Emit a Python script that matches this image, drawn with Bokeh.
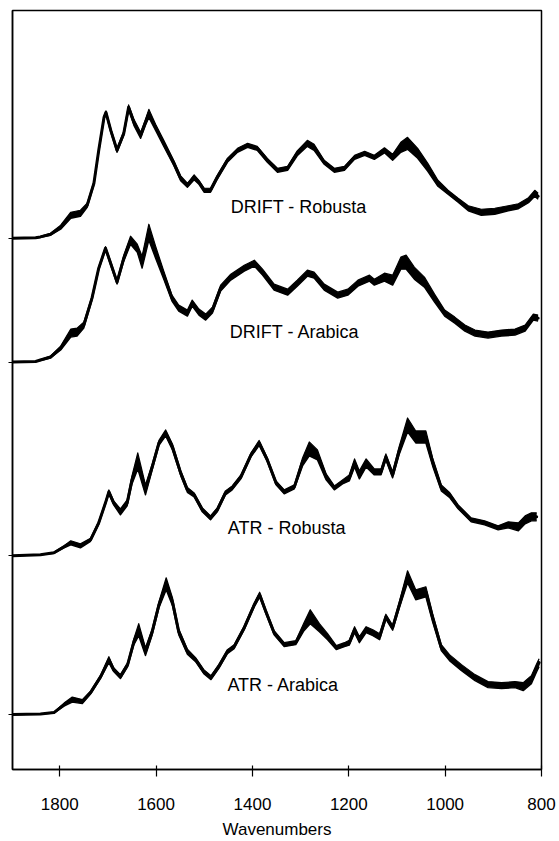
from bokeh.plotting import figure
from bokeh.models import Range1d, FixedTicker, ColumnDataSource
from bokeh.core.properties import value
from bokeh.embed import file_html
from bokeh.resources import INLINE

# ---------------- data (arbitrary absorbance units) -------------
group_names = ["DRIFT - Robusta", "DRIFT - Arabica", "ATR - Robusta", "ATR - Arabica"]
group_offsets = [532, 408, 214, 55]

wn_drift_rob = [1898, 1850, 1840, 1819, 1798, 1777, 1757, 1743, 1729, 1719, 1708, 1704, 1694, 1681,
                1667, 1657, 1646, 1632, 1622, 1615, 1601, 1584, 1563, 1549, 1535, 1521, 1511, 1500,
                1487, 1473, 1452, 1431, 1410, 1390, 1369, 1348, 1327, 1307, 1286, 1272, 1251, 1230,
                1209, 1188, 1167, 1147, 1126, 1109, 1092, 1078, 1057, 1036, 1015, 994, 973, 952,
                925, 897, 869, 848, 827, 814, 807]
abs_drift_rob = [0, 0.5, 1.3, 4, 11, 23, 25, 33, 55, 88, 121, 126, 108, 88, 105, 131, 116, 103, 116,
                 125, 111, 95, 75, 60, 53, 61, 56, 48, 48, 61, 78, 88, 93, 90, 78, 68, 70, 85, 95, 91,
                 76, 68, 70, 81, 85, 81, 88, 81, 91, 95, 85, 71, 55, 46, 38, 30, 26, 27, 30, 32, 38,
                 45, 42]
spread_drift_rob = [0, 0, 0.5, 1, 2, 3, 3, 2, 1.5, 1.5, 1.5, 1.5, 2, 2, 2, 2.5, 3, 3, 3, 4,
                    3, 3, 2.5, 2.5, 2, 2.5, 2, 2, 2, 2, 2, 2, 2, 2, 2, 2, 2, 2.5, 3, 3,
                    2, 2, 2, 2, 2, 2, 2.5, 3, 5, 6, 5, 4, 3, 2, 2, 2.5, 3, 3, 2.5, 2.5,
                    2.5, 3, 3]

wn_drift_ara = [1898, 1850, 1840, 1819, 1798, 1777, 1764, 1750, 1733, 1719, 1705, 1695, 1681, 1667,
                1653, 1639, 1629, 1615, 1601, 1584, 1567, 1553, 1535, 1525, 1511, 1497, 1483, 1466,
                1445, 1417, 1396, 1379, 1355, 1327, 1307, 1286, 1272, 1251, 1223, 1202, 1181, 1157,
                1147, 1126, 1109, 1092, 1081, 1064, 1043, 1022, 1001, 980, 959, 938, 911, 883, 855,
                834, 817, 807]
abs_drift_ara = [0, 0.5, 2, 5, 14, 29, 30, 37, 64, 94, 114, 100, 80, 104, 122, 114, 100, 130, 110, 87,
                 64, 54, 49, 59, 50, 45, 52, 74, 85, 94, 99, 90, 75, 70, 79, 89, 87, 75, 67, 70,
                 79, 84, 80, 85, 82, 99, 100, 89, 80, 64, 49, 42, 34, 29, 27, 29, 30, 34, 45, 44]
spread_drift_ara = [0, 0, 0.5, 1, 2, 4, 4, 3, 2, 1.5, 1.5, 2, 2, 3, 4, 4, 6, 8, 6, 4,
                    3, 3, 3, 3, 3, 3, 3, 3, 3, 3, 3, 3, 3, 3, 3, 3, 3, 3, 3, 3,
                    3, 3, 3, 4, 5, 6, 7, 6, 5, 4, 3, 3, 3, 3, 3, 3, 3, 3, 3, 3]

wn_atr_rob = [1898, 1840, 1812, 1791, 1777, 1757, 1736, 1719, 1705, 1698, 1688, 1674, 1660, 1650,
              1638, 1622, 1608, 1594, 1580, 1566, 1549, 1535, 1521, 1504, 1487, 1473, 1456, 1442,
              1424, 1403, 1386, 1369, 1351, 1334, 1313, 1296, 1282, 1265, 1247, 1230, 1213, 1199,
              1188, 1178, 1164, 1147, 1133, 1123, 1109, 1095, 1078, 1061, 1040, 1026, 1008, 991,
              973, 946, 918, 890, 869, 848, 834, 821, 810]
abs_atr_rob = [0, 1, 3, 9, 13, 10, 16, 33, 53, 64, 53, 44, 53, 76, 95, 66, 89, 113, 123, 109,
               83, 66, 61, 46, 38, 46, 63, 68, 79, 101, 113, 96, 73, 64, 69, 94, 107, 101, 79, 68,
               74, 78, 93, 81, 93, 84, 84, 99, 81, 106, 131, 119, 119, 94, 68, 61, 49, 36, 33, 28,
               31, 29, 36, 39, 39]
spread_atr_rob = [0, 0, 0.5, 1, 2, 2, 1.5, 1.5, 1.5, 2, 2, 3, 3, 4, 8, 5, 3, 2.5, 3, 3,
                  2.5, 2.5, 2, 2, 2, 2, 2, 2, 2, 2, 2.5, 2, 2, 2, 2, 4, 7, 5, 3, 2,
                  2, 3, 4, 4, 4, 3, 3, 3, 3, 4, 7, 6, 6, 4, 3, 2.5, 2, 2, 2, 2,
                  3, 4, 4, 4, 4]

wn_atr_ara = [1898, 1840, 1812, 1791, 1774, 1753, 1736, 1715, 1698, 1688, 1674, 1659, 1646, 1636,
              1622, 1608, 1594, 1579, 1566, 1553, 1535, 1518, 1501, 1486, 1470, 1452, 1438, 1417,
              1396, 1385, 1372, 1355, 1334, 1310, 1293, 1280, 1261, 1244, 1226, 1209, 1199, 1188,
              1178, 1164, 1150, 1136, 1123, 1109, 1095, 1078, 1061, 1040, 1026, 1008, 991, 966,
              938, 911, 883, 855, 838, 821, 810, 805]
abs_atr_ara = [0, 0.5, 2, 10, 15, 13, 22, 38, 55, 45, 38, 50, 73, 85, 63, 83, 110, 131, 113, 83,
               63, 55, 43, 37, 48, 63, 68, 87, 110, 120, 103, 82, 70, 72, 88, 98, 87, 78, 67, 70,
               72, 85, 75, 85, 82, 78, 98, 87, 110, 138, 120, 123, 97, 67, 57, 47, 37, 30, 29, 30,
               28, 35, 47, 52]
spread_atr_ara = [0, 0, 0.5, 1.5, 2.5, 2, 1.5, 1.5, 3, 2, 2, 2, 3, 6, 4, 3, 3, 6, 4, 3,
                  2.5, 2, 2, 2, 2, 2, 2, 2, 2, 2.5, 2, 2, 2, 2, 4, 7, 4, 3, 2, 2,
                  2.5, 3, 3, 3, 3, 3, 2.5, 2.5, 3, 6, 5, 5, 4, 3, 3, 3, 3, 3, 3, 3,
                  4, 4, 4, 4]

x_ticks = [1800, 1600, 1400, 1200, 1000, 800]

groups = [
    (wn_drift_rob, abs_drift_rob, spread_drift_rob),
    (wn_drift_ara, abs_drift_ara, spread_drift_ara),
    (wn_atr_rob, abs_atr_rob, spread_atr_rob),
    (wn_atr_ara, abs_atr_ara, spread_atr_ara),
]
label_x = [1304, 1312, 1329, 1336]
label_y = [563, 438, 242, 85]

FONT = "Liberation Sans"

p = figure(width=559, height=841, output_backend="svg", toolbar_location=None,
           x_range=Range1d(1898, 800), y_range=Range1d(0, 760),
           min_border_left=12, min_border_right=18, min_border_top=10, min_border_bottom=71)
p.background_fill_color = "white"
p.border_fill_color = "white"
p.outline_line_color = "black"
p.outline_line_width = 1.5
p.xgrid.visible = False
p.ygrid.visible = False

for (wn, ab, sp), off in zip(groups, group_offsets):
    assert len(wn) == len(ab) == len(sp)
    mid = [off + a for a in ab]
    lo = [off + a - s for a, s in zip(ab, sp)]
    hi = [off + a + s for a, s in zip(ab, sp)]
    src = ColumnDataSource(dict(x=wn, mid=mid, lo=lo, hi=hi))
    p.varea(x="x", y1="lo", y2="hi", source=src, fill_color="black")
    p.line(x="x", y="lo", source=src, line_color="black", line_width=1.4, line_join="round")
    p.line(x="x", y="hi", source=src, line_color="black", line_width=1.2, line_join="round")
    p.line(x="x", y="mid", source=src, line_color="black", line_width=3.0, line_join="round",
           line_cap="round")

src_lab = ColumnDataSource(dict(x=label_x, y=label_y, t=group_names))
p.text(x="x", y="y", text="t", source=src_lab, text_align="center", text_baseline="middle",
       text_font=value(FONT), text_font_size="18px", text_color="black")

# x axis
xa = p.xaxis[0]
xa.ticker = FixedTicker(ticks=x_ticks)
xa.minor_tick_line_color = None
xa.major_tick_in = 4
xa.major_tick_out = 7
xa.major_tick_line_width = 1.2
xa.axis_line_width = 1.5
xa.major_label_text_font = FONT
xa.major_label_text_font_size = "17px"
xa.major_label_text_color = "black"
xa.major_label_standoff = 21
xa.axis_label = "Wavenumbers"
xa.axis_label_text_font = FONT
xa.axis_label_text_font_size = "17px"
xa.axis_label_text_font_style = "normal"
xa.axis_label_text_color = "black"
xa.axis_label_standoff = 7

# y axis: only baseline ticks, no labels
ya = p.yaxis[0]
ya.ticker = FixedTicker(ticks=group_offsets)
ya.minor_tick_line_color = None
ya.major_tick_in = 0
ya.major_tick_out = 4
ya.major_tick_line_width = 1.2
ya.axis_line_width = 1.5
ya.major_label_overrides = {t: "" for t in group_offsets}
ya.major_label_standoff = 0

open("out.html", "w").write(file_html(p, INLINE))
